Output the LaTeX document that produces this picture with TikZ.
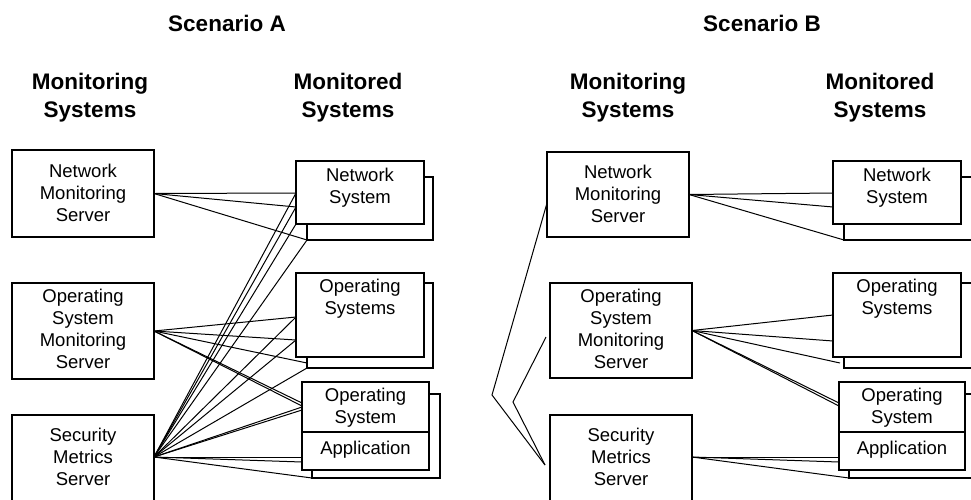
\documentclass[tikz,border=0pt]{standalone}
\usepackage{fontspec}
\setmainfont{Liberation Sans}
\begin{document}
\begin{tikzpicture}[x=1pt,y=-1pt,
  frame/.style={draw, line width=1.2pt, fill=white, inner sep=0pt, outer sep=0pt, anchor=north west},
  lbl/.style={align=center, inner sep=0pt, font=\fontsize{18.5}{22}\selectfont},
  head/.style={align=center, inner sep=0pt, font=\bfseries\fontsize{22.5}{28}\selectfont},
  link/.style={line width=1pt}]
\useasboundingbox (0,0) rectangle (971,499);
\clip (0,0) rectangle (971,499);

% ---------------- Scenario A ----------------
\node[head] (scA) at (227,23) {Scenario A};
\node[head] (hmA) at (90,98) {Monitoring\\Systems};
\node[head] (hdA) at (348,98) {Monitored\\Systems};

% monitoring servers
\node[frame, minimum width=142pt, minimum height=87pt] (nmsA) at (12,150) {};
\node[frame, minimum width=142pt, minimum height=96pt] (osmsA) at (12,283) {};
\node[frame, minimum width=142pt, minimum height=110pt] (smsA) at (12,415) {};
\node[lbl] (nmsAt) at ([yshift=1pt]nmsA.center) {Network\\Monitoring\\Server};
\node[lbl] (osmsAt) at ([yshift=2pt]osmsA.center) {Operating\\System\\Monitoring\\Server};
\node[lbl] (smsAt) at ([yshift=-42pt]smsA.north) {Security\\Metrics\\Server};

% monitored systems (stacked instances)
\node[frame, minimum width=126pt, minimum height=63pt] (nsbA) at (307,177) {};
\node[frame, minimum width=128pt, minimum height=63pt] (nsA) at (296,161) {};
\node[lbl] (nsAt) at ([yshift=4.5pt]nsA.center) {Network\\System};
\node[frame, minimum width=126pt, minimum height=85pt] (osbA) at (307,283) {};
\node[frame, minimum width=128pt, minimum height=84pt] (osA) at (296,273) {};
\node[lbl] (osAt) at ([yshift=-26pt]osA.north) {Operating\\Systems};
\node[frame, minimum width=128pt, minimum height=84pt] (oabA) at (312,394) {};
\node[frame, minimum width=127pt, minimum height=50pt] (opA) at (302,382) {};
\node[frame, minimum width=127pt, minimum height=38pt] (apA) at (302,432) {};
\node[lbl] (opAt) at ([yshift=-1pt]opA.center) {Operating\\System};
\node[lbl] (apAt) at ([yshift=1pt]apA.center) {Application};

\coordinate (srcA) at ([yshift=-42pt]smsA.north east);

% Network Monitoring Server links
\draw[link] (nmsA.east) -- ([yshift=-32pt]nsA.north west);
\draw[link] (nmsA.east) -- ([yshift=-46pt]nsA.north west);
\draw[link] (nmsA.east) -- (nsbA.south west);
% Operating System Monitoring Server links
\draw[link] (osmsA.east) -- ([yshift=-44pt]osA.north west);
\draw[link] (osmsA.east) -- ([yshift=-67pt]osA.north west);
\draw[link] (osmsA.east) -- ([yshift=5pt]osbA.south west);
\draw[link] (osmsA.east) -- ([yshift=-21pt]opA.north west);
\draw[link] (osmsA.east) -- ([yshift=-24pt]opA.north west);
% Security Metrics Server links
\draw[link] (srcA) -- ([yshift=-32pt]nsA.north west);
\draw[link] (srcA) -- ([yshift=-46pt]nsA.north west);
\draw[link] (srcA) -- (nsA.south west);
\draw[link] (srcA) -- (nsbA.south west);
\draw[link] (srcA) -- ([yshift=-44pt]osA.north west);
\draw[link] (srcA) -- ([yshift=-67pt]osA.north west);
\draw[link] (srcA) -- (osbA.south west);
\draw[link] (srcA) -- ([yshift=-25pt]opA.north west);
\draw[link] (srcA) -- ([yshift=-28pt]opA.north west);
\draw[link] (srcA) -- ([yshift=-25pt]apA.north west);
\draw[link] (srcA) -- ([yshift=-30pt]apA.north west);
\draw[link] (srcA) -- (oabA.south west);

% ---------------- Scenario B ----------------
\node[head] (scB) at (762,23) {Scenario B};
\node[head] (hmB) at (628,98) {Monitoring\\Systems};
\node[head] (hdB) at (880,98) {Monitored\\Systems};

\node[frame, minimum width=142pt, minimum height=85pt] (nmsB) at (547,152) {};
\node[frame, minimum width=142pt, minimum height=95pt] (osmsB) at (550,283) {};
\node[frame, minimum width=142pt, minimum height=110pt] (smsB) at (550,415) {};
\node[lbl] (nmsBt) at ([yshift=1pt]nmsB.center) {Network\\Monitoring\\Server};
\node[lbl] (osmsBt) at ([yshift=2pt]osmsB.center) {Operating\\System\\Monitoring\\Server};
\node[lbl] (smsBt) at ([yshift=-42pt]smsB.north) {Security\\Metrics\\Server};

\node[frame, minimum width=128pt, minimum height=63pt] (nsbB) at (844,177) {};
\node[frame, minimum width=128pt, minimum height=63pt] (nsB) at (833,161) {};
\node[lbl] (nsBt) at ([yshift=4.5pt]nsB.center) {Network\\System};
\node[frame, minimum width=128pt, minimum height=85pt] (osbB) at (844,283) {};
\node[frame, minimum width=128pt, minimum height=84pt] (osB) at (833,273) {};
\node[lbl] (osBt) at ([yshift=-26pt]osB.north) {Operating\\Systems};
\node[frame, minimum width=128pt, minimum height=84pt] (oabB) at (849,394) {};
\node[frame, minimum width=126pt, minimum height=50pt] (opB) at (839,382) {};
\node[frame, minimum width=126pt, minimum height=38pt] (apB) at (839,432) {};
\node[lbl] (opBt) at ([yshift=-1pt]opB.center) {Operating\\System};
\node[lbl] (apBt) at ([yshift=1pt]apB.center) {Application};

\coordinate (srcB) at ([yshift=-42pt]smsB.north east);

\draw[link] (nmsB.east) -- ([yshift=-32pt]nsB.north west);
\draw[link] (nmsB.east) -- ([yshift=-46pt]nsB.north west);
\draw[link] (nmsB.east) -- (nsbB.south west);
\draw[link] (osmsB.east) -- ([yshift=-42pt]osB.north west);
\draw[link] (osmsB.east) -- ([yshift=-68pt]osB.north west);
\draw[link] (osmsB.east) -- ([xshift=-4pt,yshift=5pt]osbB.south west);
\draw[link] (osmsB.east) -- ([yshift=-21pt]opB.north west);
\draw[link] (osmsB.east) -- ([yshift=-24pt]opB.north west);
\draw[link] (srcB) -- ([yshift=-25pt]apB.north west);
\draw[link] (srcB) -- ([yshift=-30pt]apB.north west);
\draw[link] (srcB) -- (oabB.south west);

% feedback paths into the Security Metrics Server
\coordinate (kinkB1) at (492,395);
\coordinate (kinkB2) at (513,402);
\coordinate (inB) at ([xshift=-5pt,yshift=-50pt]smsB.north west);
\draw[link] ([yshift=-51pt]nmsB.north west) -- (kinkB1) -- (inB);
\draw[link] ([xshift=-4pt,yshift=-54pt]osmsB.north west) -- (kinkB2) -- (inB);
\end{tikzpicture}
\end{document}
